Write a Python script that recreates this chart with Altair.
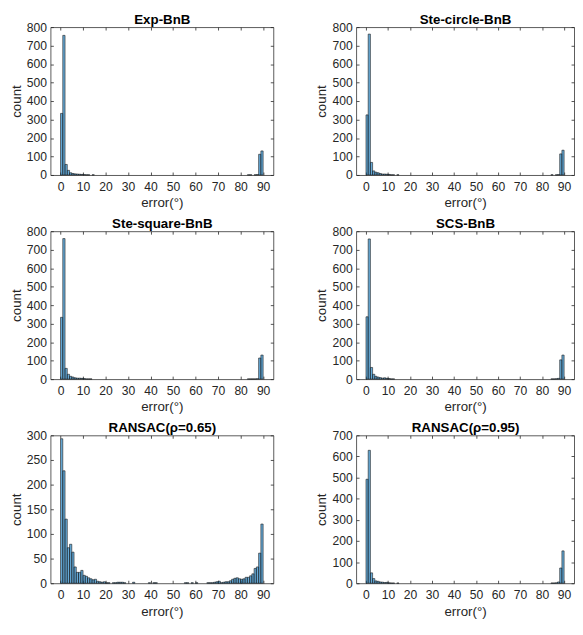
import altair as alt
import pandas as pd

FONT = "Liberation Sans"
TXT = "#262626"

# histogram bins: 1-degree wide, 0..90
bin_lo = list(range(0, 90))
bin_hi = list(range(1, 91))

x_ticks = [0, 10, 20, 30, 40, 50, 60, 70, 80, 90]

titles = ["Exp-BnB", "Ste-circle-BnB", "Ste-square-BnB", "SCS-BnB",
          "RANSAC(ρ=0.65)", "RANSAC(ρ=0.95)"]

exp_bnb = [333, 755, 57, 25, 12, 8, 6, 5, 4, 3, 2, 1, 1, 0, 1, 0, 0, 0, 0, 0,
           0, 0, 0, 0, 0, 0, 0, 0, 0, 0, 0, 0, 0, 0, 0, 0, 0, 0, 0, 0,
           0, 0, 0, 0, 0, 0, 0, 0, 0, 0, 0, 0, 0, 0, 0, 0, 0, 0, 0, 0,
           0, 0, 0, 0, 0, 0, 0, 0, 0, 0, 0, 0, 0, 0, 0, 0, 0, 0, 0, 0,
           0, 0, 0, 1, 1, 0, 1, 2, 112, 130]
ste_circle = [325, 762, 68, 22, 15, 12, 8, 5, 5, 4, 3, 1, 1, 0, 1, 0, 0, 0, 0, 0,
              0, 0, 0, 0, 0, 0, 0, 0, 0, 0, 0, 0, 0, 0, 0, 0, 0, 0, 0, 0,
              0, 0, 0, 0, 0, 0, 0, 0, 0, 0, 0, 0, 0, 0, 0, 0, 0, 0, 0, 0,
              0, 0, 0, 0, 0, 0, 0, 0, 0, 0, 0, 0, 0, 0, 0, 0, 0, 0, 0, 0,
              0, 0, 0, 0, 1, 0, 1, 2, 114, 134]
ste_square = [334, 760, 58, 26, 15, 11, 7, 5, 5, 4, 3, 1, 1, 1, 0, 0, 0, 0, 0, 0,
              0, 0, 0, 0, 0, 0, 0, 0, 0, 0, 0, 0, 0, 0, 0, 0, 0, 0, 0, 0,
              0, 0, 0, 0, 0, 0, 0, 0, 0, 0, 0, 0, 0, 0, 0, 0, 0, 0, 0, 0,
              0, 0, 0, 0, 0, 0, 0, 0, 0, 0, 0, 0, 0, 0, 0, 0, 0, 0, 0, 0,
              0, 0, 0, 1, 1, 1, 1, 2, 114, 130]
scs_bnb = [337, 758, 63, 26, 15, 11, 8, 5, 7, 4, 3, 1, 1, 0, 0, 0, 0, 0, 0, 0,
           0, 0, 0, 0, 0, 0, 0, 0, 0, 0, 0, 0, 0, 0, 0, 0, 0, 0, 0, 0,
           0, 0, 0, 0, 0, 0, 0, 0, 0, 0, 0, 0, 0, 0, 0, 0, 0, 0, 0, 0,
           0, 0, 0, 0, 0, 0, 0, 0, 0, 0, 0, 0, 0, 0, 0, 0, 0, 0, 0, 0,
           0, 0, 0, 0, 1, 1, 2, 4, 104, 130]
ransac_065 = [293, 228, 130, 72, 79, 63, 33, 22, 22, 26, 16, 14, 11, 9, 7, 8, 4, 3, 2, 3,
              1, 1, 0, 1, 1, 2, 2, 2, 1, 0, 0, 0, 2, 0, 0, 0, 0, 0, 0, 1,
              0, 1, 1, 0, 0, 0, 0, 0, 0, 0, 0, 0, 0, 0, 0, 1, 1, 0, 1, 0,
              1, 0, 0, 0, 0, 1, 1, 1, 2, 3, 4, 1, 2, 3, 3, 5, 8, 10, 11, 9,
              8, 9, 12, 12, 15, 19, 30, 33, 61, 120]
ransac_095 = [492, 629, 49, 22, 11, 9, 6, 5, 3, 4, 2, 1, 1, 0, 1, 0, 0, 0, 0, 0,
              0, 0, 0, 0, 0, 0, 0, 0, 0, 0, 0, 0, 0, 0, 0, 0, 0, 0, 0, 0,
              0, 0, 0, 0, 0, 0, 0, 0, 0, 0, 0, 0, 0, 0, 0, 0, 0, 0, 0, 0,
              0, 0, 0, 0, 0, 0, 0, 0, 0, 0, 0, 0, 0, 0, 0, 0, 0, 0, 0, 0,
              0, 0, 0, 0, 1, 1, 2, 6, 72, 153]

y_max = [800, 800, 800, 800, 300, 700]
y_ticks = [
    [0, 100, 200, 300, 400, 500, 600, 700, 800],
    [0, 100, 200, 300, 400, 500, 600, 700, 800],
    [0, 100, 200, 300, 400, 500, 600, 700, 800],
    [0, 100, 200, 300, 400, 500, 600, 700, 800],
    [0, 50, 100, 150, 200, 250, 300],
    [0, 100, 200, 300, 400, 500, 600, 700],
]
series = [exp_bnb, ste_circle, ste_square, scs_bnb, ransac_065, ransac_095]
widths = [226, 221, 226, 221, 226, 221]


def panel(title, counts, ymax, yticks, w):
    df = pd.DataFrame({"lo": bin_lo, "hi": bin_hi, "count": counts,
                       "base": [0] * len(counts)})
    df = df[df["count"] > 0]
    xs = alt.Scale(domain=[-4.5, 94.5], nice=False, zero=False)
    ys = alt.Scale(domain=[0, ymax], nice=False)
    common = dict(offset=-3, tickSize=3, domain=False, tickColor=TXT,
                  tickWidth=0.8, grid=False, minExtent=0)
    bars = alt.Chart(df).mark_bar(
        fill="#0072BD", fillOpacity=0.6, stroke="#1a1a1a", strokeWidth=0.6
    ).encode(
        x=alt.X("lo:Q", scale=xs,
                axis=alt.Axis(values=x_ticks, title="error(°)", labelPadding=6,
                              titlePadding=3, **common)),
        x2="hi:Q",
        y=alt.Y("count:Q", scale=ys,
                axis=alt.Axis(values=yticks, title="count", labelPadding=4,
                              titlePadding=3, **common)),
        y2="base:Q",
    )
    frame_axes = alt.Chart(df).mark_bar(opacity=0).encode(
        x=alt.X("lo:Q", scale=xs,
                axis=alt.Axis(values=x_ticks, orient="top", labels=False,
                              title=title, titleFontWeight="bold",
                              titleColor="#000000", titleFontSize=13.5,
                              titlePadding=0, **common)),
        x2="hi:Q",
        y=alt.Y("count:Q", scale=ys,
                axis=alt.Axis(values=yticks, orient="right", labels=False,
                              title=None, **common)),
        y2="base:Q",
    )
    return alt.layer(bars, frame_axes).resolve_axis(
        x="independent", y="independent"
    ).properties(width=w, height=150)


panels = [panel(t, c, m, yt, w)
          for t, c, m, yt, w in zip(titles, series, y_max, y_ticks, widths)]

chart = alt.concat(
    *panels, columns=2, spacing={"row": 57, "column": 84}, bounds="flush"
).properties(
    padding={"left": 0, "top": 0, "right": 0, "bottom": 0},
    background="white",
).configure_view(
    stroke="#5a5a5a", strokeWidth=1
).configure_axis(
    labelFont=FONT, titleFont=FONT, labelFontSize=12.3, titleFontSize=13.5,
    labelColor=TXT, titleColor=TXT, titleFontWeight="normal",
)

chart.save("out.html", embed_options={"renderer": "svg", "actions": False})
